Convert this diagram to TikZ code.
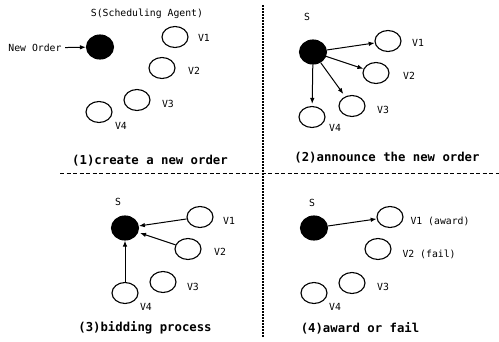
\documentclass[tikz,border=0pt]{standalone}
\usepackage{fontspec}
\setmainfont{DejaVu Sans Mono}
\usetikzlibrary{arrows.meta,shapes.geometric}
\begin{document}
\begin{tikzpicture}[x=1pt,y=-1pt,
  agent/.style={draw,ellipse,line width=1.1pt,minimum width=26pt,minimum height=21pt,inner sep=0pt},
  sched/.style={agent,fill=black,minimum width=27pt,minimum height=24pt},
  lbl/.style={font=\fontsize{9.8}{12}\selectfont},
  caption/.style={font=\fontsize{12.3}{14}\selectfont\bfseries},
  >={Latex[length=6pt,width=4.5pt]}]
\useasboundingbox (0,0) rectangle (499,341);
% (1) create a new order
\node[lbl] (T1) at (147,14) {S(Scheduling Agent)};
\node[sched] (S1) at (100,47) {};
\node[lbl] (N1) at (35,48) {New Order};
\node[agent] (V11) at (175,37) {};
\node[agent] (V12) at (162,68) {};
\node[agent] (V13) at (137,100) {};
\node[agent] (V14) at (99,112) {};
\node[lbl] (L11) at (204,38) {V1};
\node[lbl] (L12) at (194,71) {V2};
\node[lbl] (L13) at (168,104) {V3};
\node[lbl] (L14) at (121,126) {V4};
\node[caption] (C1) at (150,161) {(1)create a new order};
\draw[->,line width=1pt] (N1) -- (S1);
% (2) announce the new order
\node[lbl] (T2) at (307,17) {S};
\node[sched] (S2) at (313,52) {};
\node[agent] (V21) at (388,41) {};
\node[agent] (V22) at (376,73) {};
\node[agent] (V23) at (352,106) {};
\node[agent] (V24) at (312,117) {};
\node[lbl] (L21) at (418,43) {V1};
\node[lbl] (L22) at (409,76) {V2};
\node[lbl] (L23) at (383,110) {V3};
\node[lbl] (L24) at (335,128) {V4};
\node[caption] (C2) at (387,158) {(2)announce the new order};
\draw[->,line width=1pt] (S2) -- (V21);
\draw[->,line width=1pt] (S2) -- (V22);
\draw[->,line width=1pt,shorten >=3pt] (S2) -- (V23);
\draw[->,line width=1pt,shorten >=2pt] (S2) -- (V24);
% (3) bidding process
\node[lbl] (T3) at (118,202) {S};
\node[sched] (S3) at (125,228) {};
\node[agent] (V31) at (200,217) {};
\node[agent] (V32) at (188,249) {};
\node[agent] (V33) at (163,282) {};
\node[agent] (V34) at (125,293) {};
\node[lbl] (L31) at (229,221) {V1};
\node[lbl] (L32) at (220,252) {V2};
\node[lbl] (L33) at (193,287) {V3};
\node[lbl] (L34) at (146,307) {V4};
\node[caption] (C3) at (145,328) {(3)bidding process};
\draw[->,line width=1pt] (V31) -- (S3);
\draw[->,line width=1pt,shorten >=2pt] (V32) -- (S3);
\draw[->,line width=1pt] (V34) -- (S3);
% (4) award or fail
\node[lbl] (T4) at (312,203) {S};
\node[sched] (S4) at (314,228) {};
\node[agent] (V41) at (390,217) {};
\node[agent] (V42) at (378,249) {};
\node[agent] (V43) at (352,283) {};
\node[agent] (V44) at (314,293) {};
\node[lbl,anchor=west] (L41) at (407,221) {V1 (award)};
\node[lbl,anchor=west] (L42) at (399,254) {V2 (fail)};
\node[lbl] (L43) at (383,287) {V3};
\node[lbl] (L44) at (335,307) {V4};
\node[caption] (C4) at (360,328) {(4)award or fail};
\draw[->,line width=1pt] (S4) -- (V41);
% dividers
\draw[line width=1pt,dash pattern=on 4pt off 2.5pt] (60,173) -- (499,173);
\draw[line width=1.2pt,dash pattern=on 1.5pt off 1.5pt] (263,5) -- (263,337);
\end{tikzpicture}
\end{document}
